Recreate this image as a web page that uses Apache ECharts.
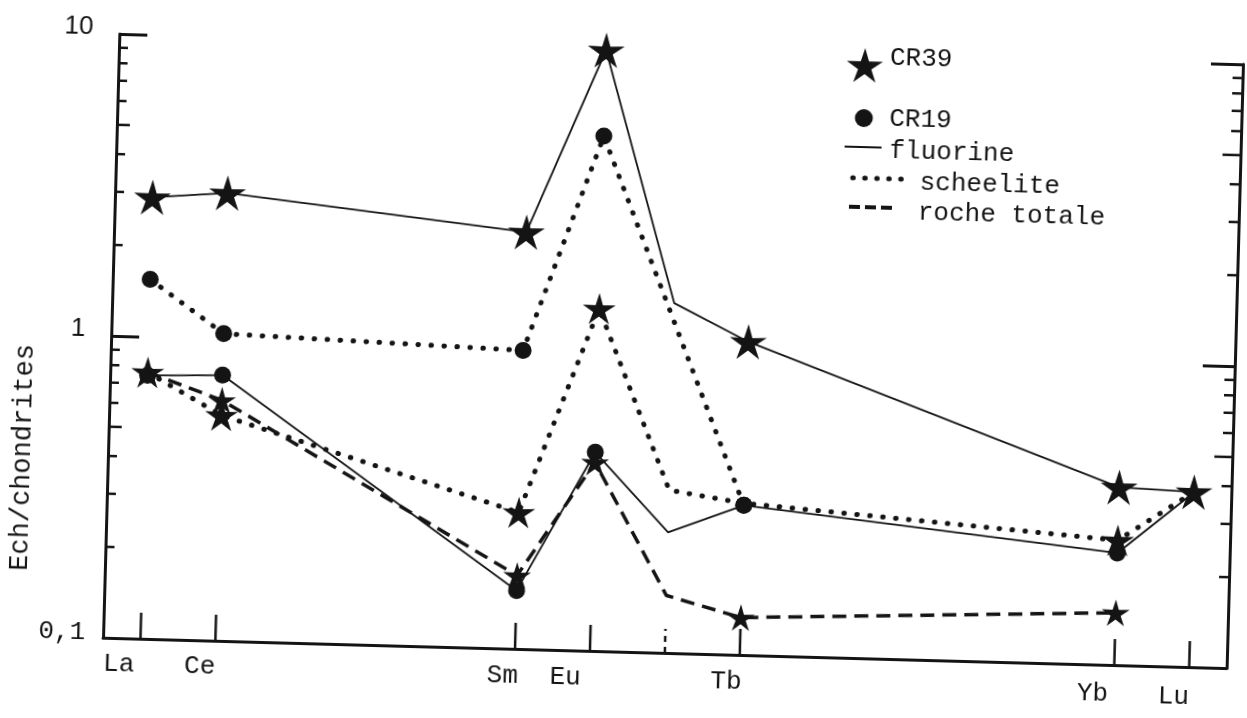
<!DOCTYPE html>
<html>
<head>
<meta charset="utf-8">
<title>Ech/chondrites</title>
<script src="https://cdn.jsdelivr.net/npm/echarts@6/dist/echarts.min.js"></script>
<style>
  html, body { margin: 0; padding: 0; background: #fff; overflow: hidden; }
  /* the scanned page is slightly turned, so the whole chart is turned too */
  #main { position: absolute; left: 0; top: 0; width: 1247px; height: 718px;
          transform-origin: 672.75px 350.75px; transform: rotate(1.55deg); }
</style>
</head>
<body>
<div id="main"></div>
<script>
// rare earth elements, in atomic order
var elements = ['La', 'Ce', 'Pr', 'Nd', 'Pm', 'Sm', 'Eu', 'Gd', 'Tb', 'Dy', 'Ho', 'Er', 'Tm', 'Yb', 'Lu'];
var labelled = ['La', 'Ce', 'Sm', 'Eu', 'Tb', 'Yb', 'Lu'];
var ticked = ['La', 'Ce', 'Sm', 'Eu', 'Gd', 'Tb', 'Yb', 'Lu'];
var minorTicks = [0.2, 0.3, 0.4, 0.5, 0.6, 0.7, 0.8, 0.9, 2, 3, 4, 5, 6, 7, 8, 9];

// Ech/chondrites values
var cr39Fluorine  = [2.90, 3.04, null, null, null, 2.40, 9.76, 1.44, 1.09, null, null, null, null, 0.388, 0.38];
var cr39Scheelite = [0.763, 0.558, null, null, null, 0.283, 1.36, 0.346, 0.318, null, null, null, null, 0.259, 0.38];
var cr39Roche     = [0.763, 0.626, null, null, null, 0.175, 0.421, 0.155, 0.133, null, null, null, null, 0.149, null];
var cr19Fluorine  = [0.745, 0.758, null, null, null, 0.156, 0.455, 0.251, 0.313, null, null, null, null, 0.235, 0.379];
var cr19Scheelite = [1.55, 1.04, null, null, null, 0.974, 5.07, null, 0.313, null, null, null, null, null, null];

var INK = '#141414';
var MONO = '"Liberation Mono", "DejaVu Sans Mono", monospace';

function starPts(cx, cy, R, r) {
    var pts = [];
    for (var i = 0; i < 10; i++) {
        var a = -Math.PI / 2 + i * Math.PI / 5;
        var rad = i % 2 ? r : R;
        pts.push([cx + rad * Math.cos(a), cy + rad * Math.sin(a)]);
    }
    return pts;
}
var STAR = 'path://M' + starPts(10, 10, 10, 3.6).map(function (p) {
    return p[0].toFixed(3) + ',' + p[1].toFixed(3);
}).join('L') + 'Z';

var solid = { color: INK, width: 1.8, type: 'solid' };
var dotted = { color: INK, width: 5, type: [0.5, 12.5], cap: 'round' };
var dashed = { color: INK, width: 3.5, type: [14, 8], cap: 'butt' };

function makeSeries(name, values, symbol, size, lineStyle, unmarked) {
    return {
        name: name,
        type: 'line',
        connectNulls: true,
        symbol: symbol,
        symbolSize: size,
        symbolKeepAspect: true,
        itemStyle: { color: INK },
        lineStyle: lineStyle,
        emphasis: { disabled: true },
        data: values.map(function (v, i) {
            if (v === null) return '-';
            if (unmarked.indexOf(elements[i]) >= 0) return { value: v, symbol: 'none' };
            return v;
        })
    };
}

// shift of each element label under its tick: [dx, dy]
var labelShift = { La: [-21, 0], Ce: [-15, 0], Sm: [-12, 3], Eu: [-24, 2], Tb: [-13, 3], Yb: [-21, 6], Lu: [-15, 8] };
var xRich = {};
labelled.forEach(function (el) {
    var s = labelShift[el];
    xRich[el] = { fontFamily: MONO, fontSize: 26, lineHeight: 26, color: INK, padding: [s[1], -2 * s[0], 0, 0] };
});

var chart = echarts.init(document.getElementById('main'));
var option = {
    animation: false,
    backgroundColor: '#fff',
    grid: { left: 111, right: 12, top: 49, bottom: 65, containLabel: false, outerBoundsMode: 'none' },
    xAxis: {
        type: 'category',
        data: elements,
        boundaryGap: true,
        axisLine: { onZero: false, lineStyle: { color: INK, width: 3 } },
        axisTick: { show: false },
        axisLabel: {
            interval: 0, margin: 13,
            formatter: function (v) { return labelled.indexOf(v) >= 0 ? '{' + v + '|' + v + '}' : ''; },
            rich: xRich
        },
        splitLine: { show: false }
    },
    yAxis: [{
        type: 'log', logBase: 10, min: 0.1, max: 10, position: 'left',
        axisLine: { show: true, lineStyle: { color: INK, width: 3 } },
        axisTick: { show: true, inside: true, length: 28, lineStyle: { color: INK, width: 3 } },
        splitLine: { show: false },
        axisLabel: {
            margin: 18,
            formatter: function (v) { return v < 0.5 ? '{m|0,1}' : '{s|' + v + '}'; },
            rich: {
                s: { fontFamily: '"Liberation Sans", Arial, sans-serif', fontSize: 26, color: INK, padding: [0, 8, 12, 0] },
                m: { fontFamily: MONO, fontSize: 26, color: INK, padding: [0, 0, 10, 0] }
            }
        }
    }, {
        type: 'log', logBase: 10, min: 0.1, max: 10, position: 'right',
        axisLine: { show: true, lineStyle: { color: INK, width: 3 } },
        axisTick: { show: true, inside: true, length: 32, lineStyle: { color: INK, width: 3 } },
        splitLine: { show: false },
        axisLabel: { show: false }
    }],
    series: [
        makeSeries('CR19 scheelite', cr19Scheelite, 'circle', 17, dotted, []),
        makeSeries('CR19 fluorine', cr19Fluorine, 'circle', 17, solid, ['Gd', 'Lu']),
        makeSeries('CR39 roche totale', cr39Roche, STAR, 28, dashed, ['Gd']),
        makeSeries('CR39 scheelite', cr39Scheelite, STAR, 33, dotted, ['Gd', 'Tb']),
        makeSeries('CR39 fluorine', cr39Fluorine, STAR, 37, solid, ['Gd']),
        {
            // log minor ticks on both side axes
            type: 'custom', silent: true, clip: false, z: 3,
            data: minorTicks.map(function (v) { return [0, v]; }),
            renderItem: function (params, api) {
                var v = api.value(1);
                var y = api.coord([0, v])[1];
                var cs = params.coordSys;
                var five = Math.abs(v - 5) < 1e-6 || Math.abs(v - 0.5) < 1e-6;
                var lenL = five ? 13 : 9, lenR = five ? 18 : 10;
                var st = { stroke: INK, lineWidth: 2.5 };
                return { type: 'group', children: [
                    { type: 'line', shape: { x1: cs.x, y1: y, x2: cs.x + lenL, y2: y }, style: st },
                    { type: 'line', shape: { x1: cs.x + cs.width, y1: y, x2: cs.x + cs.width - lenR, y2: y }, style: st }
                ] };
            }
        },
        {
            // element ticks standing on the bottom axis
            type: 'custom', silent: true, clip: false, z: 3,
            data: ticked.map(function (el) { return [el, 0.1]; }),
            renderItem: function (params, api) {
                var p = api.coord([api.value(0), 0.1]);
                var isGd = elements[api.value(0)] === 'Gd';
                return { type: 'line',
                    shape: { x1: p[0], y1: p[1], x2: p[0], y2: p[1] - (isGd ? 24 : 26) },
                    style: { stroke: INK, lineWidth: 2.5, lineDash: isGd ? [6, 5] : null } };
            }
        }
    ],
    graphic: [
        { type: 'text', x: 26, y: 475, rotation: Math.PI / 2,
          style: { text: 'Ech/chondrites', font: '27px ' + MONO, fill: INK, align: 'center', verticalAlign: 'middle' } },
        // legend
        { type: 'polygon', shape: { points: starPts(857, 62, 19, 7) }, style: { fill: INK } },
        { type: 'text', x: 882, y: 52, style: { text: 'CR39', font: '26px ' + MONO, fill: INK, align: 'left', verticalAlign: 'middle' } },
        { type: 'circle', shape: { cx: 857.5, cy: 113, r: 9 }, style: { fill: INK } },
        { type: 'text', x: 883, y: 113, style: { text: 'CR19', font: '26px ' + MONO, fill: INK, align: 'left', verticalAlign: 'middle' } },
        { type: 'line', shape: { x1: 839, y1: 142, x2: 876, y2: 142 }, style: { stroke: INK, lineWidth: 2 } },
        { type: 'text', x: 884, y: 145, style: { text: 'fluorine', font: '26px ' + MONO, fill: INK, align: 'left', verticalAlign: 'middle' } },
        { type: 'line', shape: { x1: 848, y1: 173, x2: 898, y2: 173 }, style: { stroke: INK, lineWidth: 5, lineDash: [0.5, 11.5], lineCap: 'round' } },
        { type: 'text', x: 915, y: 176, style: { text: 'scheelite', font: '26px ' + MONO, fill: INK, align: 'left', verticalAlign: 'middle' } },
        { type: 'line', shape: { x1: 845, y1: 202, x2: 888, y2: 202 }, style: { stroke: INK, lineWidth: 4, lineDash: [11, 5] } },
        { type: 'text', x: 914, y: 206, style: { text: 'roche totale', font: '26px ' + MONO, fill: INK, align: 'left', verticalAlign: 'middle' } }
    ]
};
chart.setOption(option);
</script>
</body>
</html>
